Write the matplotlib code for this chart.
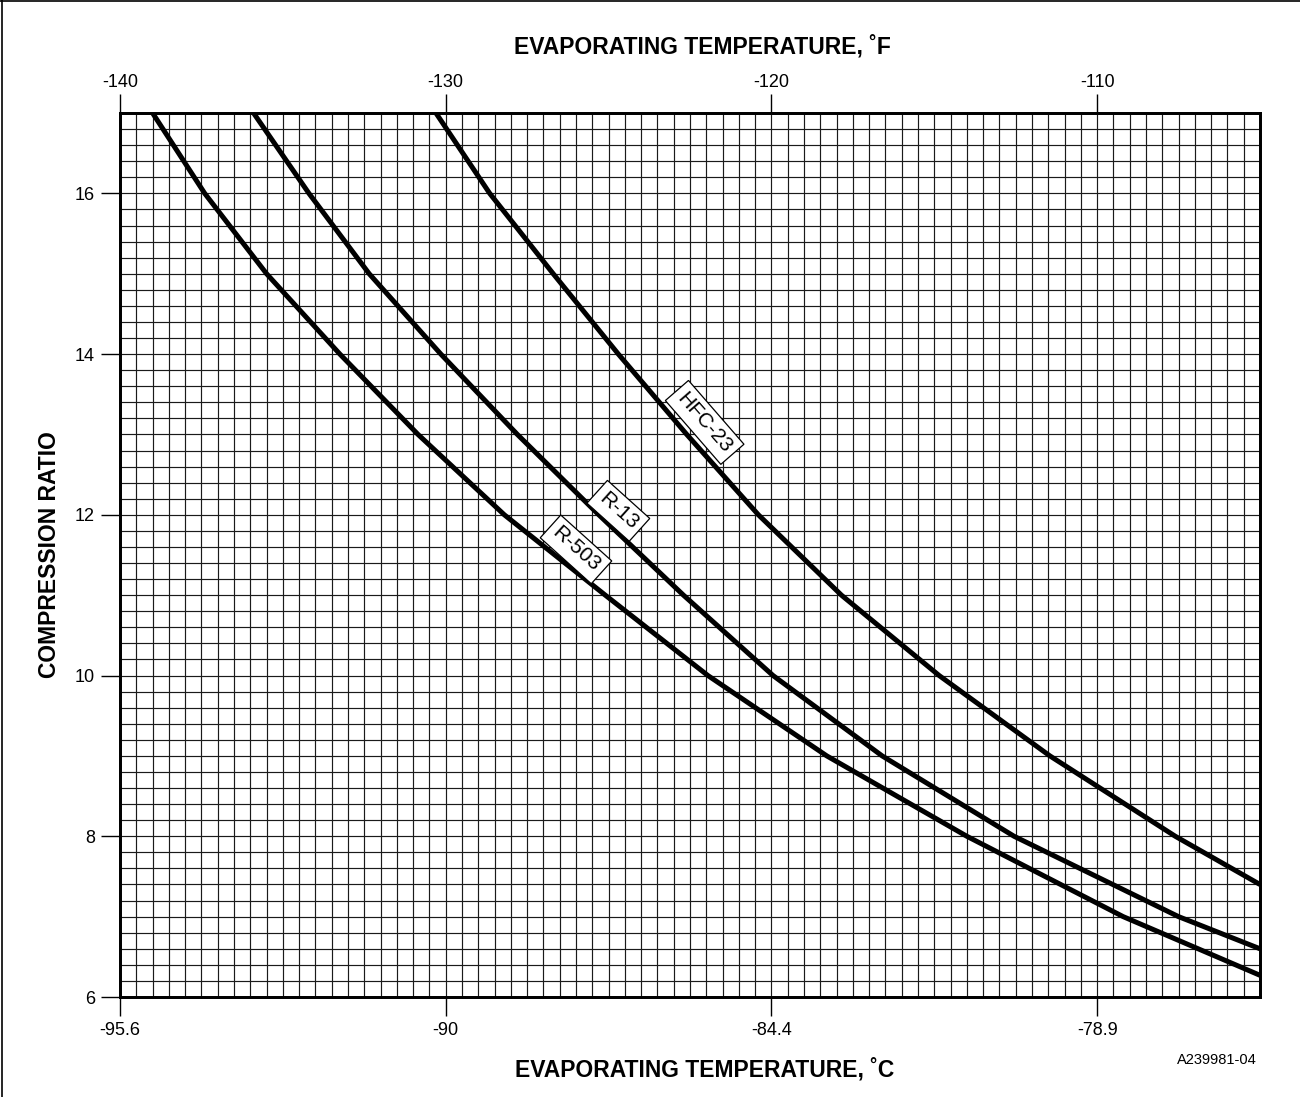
import numpy as np
import matplotlib
matplotlib.use("Agg")
import matplotlib.pyplot as plt
from matplotlib.lines import Line2D

plt.rcParams['font.family'] = ['Liberation Sans', 'DejaVu Sans']

# ---- data (evaporating temperature in °F, compression ratio) ----
hfc23_F = [-130.3, -128.65, -126.7, -124.7, -122.6, -120.4, -117.85, -114.85, -111.45, -107.6, -105.0]
hfc23_R = [17.0, 16.0, 15.0, 14.0, 13.0, 12.0, 11.0, 10.0, 9.0, 8.0, 7.4]

r13_F = [-135.9, -134.2, -132.35, -130.15, -127.8, -125.3, -122.7, -119.95, -116.6, -112.55, -107.5, -105.0]
r13_R = [17.0, 16.0, 15.0, 14.0, 13.0, 12.0, 11.0, 10.0, 9.0, 8.0, 7.0, 6.6]

r503_F = [-139.0, -137.4, -135.5, -133.25, -130.85, -128.2, -125.1, -121.95, -118.3, -114.0, -109.2, -105.0]
r503_R = [17.0, 16.0, 15.0, 14.0, 13.0, 12.0, 11.0, 10.0, 9.0, 8.0, 7.0, 6.27]

top_ticks_F = [-140, -130, -120, -110]
bottom_tick_labels_C = ['-95.6', '-90', '-84.4', '-78.9']
y_ticks = [6, 8, 10, 12, 14, 16]

labels = ['HFC-23', 'R-13', 'R-503']

fig = plt.figure(figsize=(13.0, 10.97), dpi=100)
ax = fig.add_axes([120/1300, 1 - 997/1097, 1140/1300, 884/1097])

xmin, xmax = -140, -105
ymin, ymax = 6, 17
ax.set_xlim(xmin, xmax)
ax.set_ylim(ymin, ymax)

# grid
for xv in np.arange(xmin, xmax + 0.01, 0.5):
    ax.axvline(xv, color='#1a1a1a', lw=0.85, zorder=1)
for yv in np.arange(ymin, ymax + 0.01, 0.2):
    ax.axhline(yv, color='#1a1a1a', lw=0.85, zorder=1)

for F, R in [(hfc23_F, hfc23_R), (r13_F, r13_R), (r503_F, r503_R)]:
    ax.plot(F, R, color='black', lw=3.6, solid_capstyle='butt', solid_joinstyle='round', zorder=3)

# curve labels (position in data coordinates)
lab_pos = [(-122.05, 13.15), (-124.7, 12.05), (-126.0, 11.57)]
lab_rot = [-49, -42, -42]
for t, (lx, ly), rot in zip(labels, lab_pos, lab_rot):
    ax.text(lx, ly, t, rotation=rot, rotation_mode='anchor', ha='center', va='center',
            fontsize=15, zorder=5,
            bbox=dict(boxstyle='square,pad=0.28', fc='white', ec='black', lw=0.9))

for s in ax.spines.values():
    s.set_linewidth(2.0)
    s.set_zorder(6)

# bottom axis (°C labels at same positions)
ax.set_xticks(top_ticks_F)
ax.set_xticklabels(bottom_tick_labels_C)
ax.set_yticks(y_ticks)
ax.tick_params(axis='both', direction='out', length=14, width=1.0, labelsize=13, pad=4, color='black')
ax.set_xlabel('EVAPORATING TEMPERATURE, ˚C', fontsize=16.5, fontweight='bold')
ax.xaxis.set_label_coords(0.513, -0.0686)
ax.set_ylabel('COMPRESSION RATIO', fontsize=16.5, fontweight='bold', labelpad=10)

# top axis in °F
axt = ax.twiny()
axt.set_xlim(xmin, xmax)
axt.set_xticks(top_ticks_F)
axt.set_xticklabels([str(v) for v in top_ticks_F])
axt.tick_params(axis='x', direction='out', length=14, width=1.0, labelsize=13, pad=2)
axt.set_xlabel('EVAPORATING TEMPERATURE, ˚F', fontsize=16.5, fontweight='bold')
axt.xaxis.set_label_coords(0.511, 1.0674)
for s in axt.spines.values():
    s.set_linewidth(2.0)

fig.text(1257/1300, 1 - 1060/1097, 'A239981-04', ha='right', va='center', fontsize=10.5)

# figure border (top and left)
fig.add_artist(Line2D([0, 1], [0.9995, 0.9995], transform=fig.transFigure, color='black', lw=1.2))
fig.add_artist(Line2D([0.0018, 0.0018], [0, 1], transform=fig.transFigure, color='black', lw=1.2))

fig.savefig('out.png', dpi=100)
